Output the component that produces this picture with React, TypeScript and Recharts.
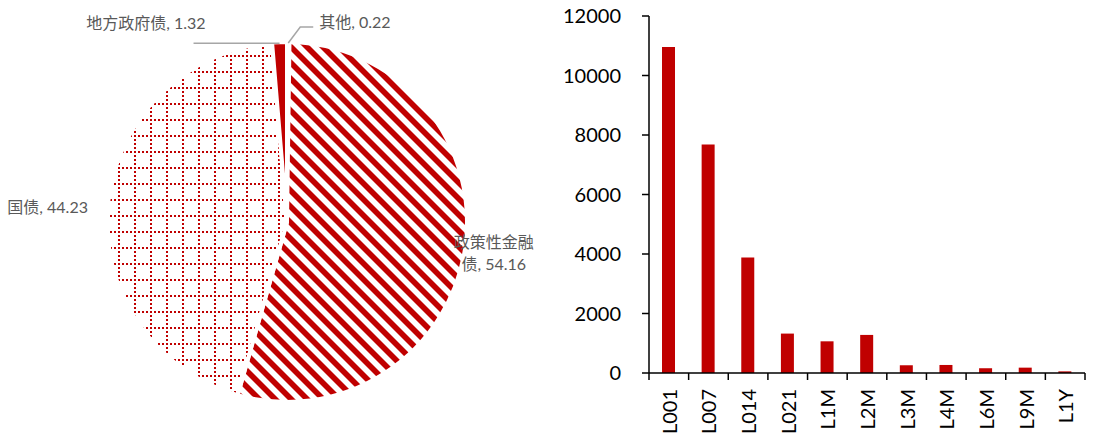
import React from "react";
import { Bar, BarChart, Cell, Pie, PieChart, XAxis, YAxis } from "recharts";

// pie: holdings by bond type (%), clockwise from 12 o'clock
const bondTypes = ["其他", "政策性金融债", "国债", "地方政府债"];
const bondShares = [0.22, 54.16, 44.23, 1.32];
const bondFills = ["#ffffff", "url(#hatch)", "url(#grid)", "#C00000"];

// bars: volume by tenor
const tenors = ["L001", "L007", "L014", "L021", "L1M", "L2M", "L3M", "L4M", "L6M", "L9M", "L1Y"];
const volumes = [10960, 7680, 3880, 1325, 1065, 1280, 260, 270, 160, 180, 55];
const volumeTicks = [0, 2000, 4000, 6000, 8000, 10000, 12000];

const FONT = "Lato, 'Noto Sans CJK SC', sans-serif";
const RED = "#C00000";
const LABEL_GREY = "#595959";
const LEADER_GREY = "#A6A6A6";

const BAR_PLOT_W = 436;
const STEP = BAR_PLOT_W / tenors.length;

const pieData = bondTypes.map((name, i) => ({ name, value: bondShares[i] }));
const barData = tenors.map((tenor, i) => ({ tenor, volume: volumes[i] }));

const RAD = Math.PI / 180;
const polar = (cx: number, cy: number, r: number, a: number) => ({
  x: cx + r * Math.cos(-a * RAD),
  y: cy + r * Math.sin(-a * RAD),
});

function PieLabel(props: any) {
  const { cx, cy, midAngle, outerRadius, value } = props;
  const name = props.payload?.name ?? props.name;
  const txt = { fill: LABEL_GREY, fontSize: 16, fontFamily: FONT, dominantBaseline: "central" as const };
  const edge = polar(cx, cy, outerRadius, midAngle);
  const num = Number(value).toFixed(2);

  if (name === "地方政府债") {
    return (
      <g>
        <line x1={edge.x} y1={edge.y + 1} x2={edge.x - 86} y2={edge.y + 1} stroke={LEADER_GREY} strokeWidth={1.5} />
        <text x={edge.x - 74} y={edge.y - 20} textAnchor="end" {...txt}>{`${name}, ${num}`}</text>
      </g>
    );
  }
  if (name === "其他") {
    return (
      <g>
        <polyline
          points={`${edge.x},${edge.y + 1} ${edge.x + 12},${edge.y - 15} ${edge.x + 25},${edge.y - 15}`}
          fill="none"
          stroke={LEADER_GREY}
          strokeWidth={1.5}
        />
        <text x={edge.x + 31} y={edge.y - 21} textAnchor="start" {...txt}>{`${name}, ${num}`}</text>
      </g>
    );
  }
  if (name === "国债") {
    const p = polar(cx, cy, outerRadius + 20, midAngle);
    return (
      <text x={p.x} y={p.y + 4} textAnchor="end" {...txt}>{`${name}, ${num}`}</text>
    );
  }
  // 政策性金融债: wrapped onto two lines, centred
  const p = polar(cx, cy, outerRadius + 29, midAngle);
  return (
    <text x={p.x} y={p.y} textAnchor="middle" {...txt}>
      <tspan x={p.x} dy={-11}>{name.slice(0, 5)}</tspan>
      <tspan x={p.x} dy={22}>{`${name.slice(5)}, ${num}`}</tspan>
    </text>
  );
}

function TenorTick(props: any) {
  const { x, y, payload, index } = props;
  const half = STEP / 2;
  return (
    <g>
      <line x1={x - half} x2={x - half} y1={y} y2={y + 7} stroke="#000" strokeWidth={1.5} />
      {index === tenors.length - 1 && (
        <line x1={x + half} x2={x + half} y1={y} y2={y + 7} stroke="#000" strokeWidth={1.5} />
      )}
      <text
        transform={`translate(${x},${y + 16}) rotate(-90)`}
        textAnchor="end"
        dominantBaseline="central"
        fontSize={20}
        fontFamily={FONT}
        fill="#000"
      >
        {payload.value}
      </text>
    </g>
  );
}

export default function App() {
  return (
    <div style={{ position: "absolute", left: 0, top: 0, width: 1096, height: 436, background: "#fff" }}>
      <div style={{ position: "absolute", left: 0, top: 0 }}>
        <PieChart width={560} height={436} margin={{ top: 0, right: 0, bottom: 0, left: 0 }}>
          <defs>
            <pattern id="grid" patternUnits="userSpaceOnUse" x={6} y={7} width={16} height={16}>
              <rect x={0} y={0} width={2} height={2} fill={RED} />
              <rect x={4} y={0} width={2} height={2} fill={RED} />
              <rect x={8} y={0} width={2} height={2} fill={RED} />
              <rect x={12} y={0} width={2} height={2} fill={RED} />
              <rect x={0} y={4} width={2} height={2} fill={RED} />
              <rect x={0} y={8} width={2} height={2} fill={RED} />
              <rect x={0} y={12} width={2} height={2} fill={RED} />
            </pattern>
            <pattern id="hatch" patternUnits="userSpaceOnUse" x={0} y={0} width={16} height={16}>
              <polygon points="0,0 8,0 16,8 16,16" fill={RED} />
              <polygon points="0,8 8,16 0,16" fill={RED} />
            </pattern>
          </defs>
          <Pie
            data={pieData}
            dataKey="value"
            nameKey="name"
            cx={287}
            cy={222}
            outerRadius={180}
            startAngle={90}
            endAngle={-270}
            stroke="#ffffff"
            strokeWidth={4}
            labelLine={false}
            label={PieLabel}
            isAnimationActive={false}
          >
            {pieData.map((d, i) => (
              <Cell key={d.name} fill={bondFills[i]} />
            ))}
          </Pie>
        </PieChart>
      </div>
      <div style={{ position: "absolute", left: 560, top: 0 }}>
        <BarChart width={536} height={436} data={barData} margin={{ top: 16, right: 11, bottom: 0, left: 0 }}>
          <XAxis
            dataKey="tenor"
            height={63}
            interval={0}
            tickSize={0}
            tickMargin={0}
            tickLine={false}
            axisLine={{ stroke: "#000", strokeWidth: 1.5 }}
            tick={<TenorTick />}
          />
          <YAxis
            width={89}
            domain={[0, 12000]}
            ticks={volumeTicks}
            interval={0}
            tickSize={7}
            tickMargin={21}
            axisLine={{ stroke: "#000", strokeWidth: 1.5 }}
            tickLine={{ stroke: "#000", strokeWidth: 1.5 }}
            tick={{ fill: "#000", fontSize: 20, fontFamily: FONT }}
          />
          <Bar dataKey="volume" fill={RED} barSize={13} isAnimationActive={false} />
        </BarChart>
      </div>
    </div>
  );
}
